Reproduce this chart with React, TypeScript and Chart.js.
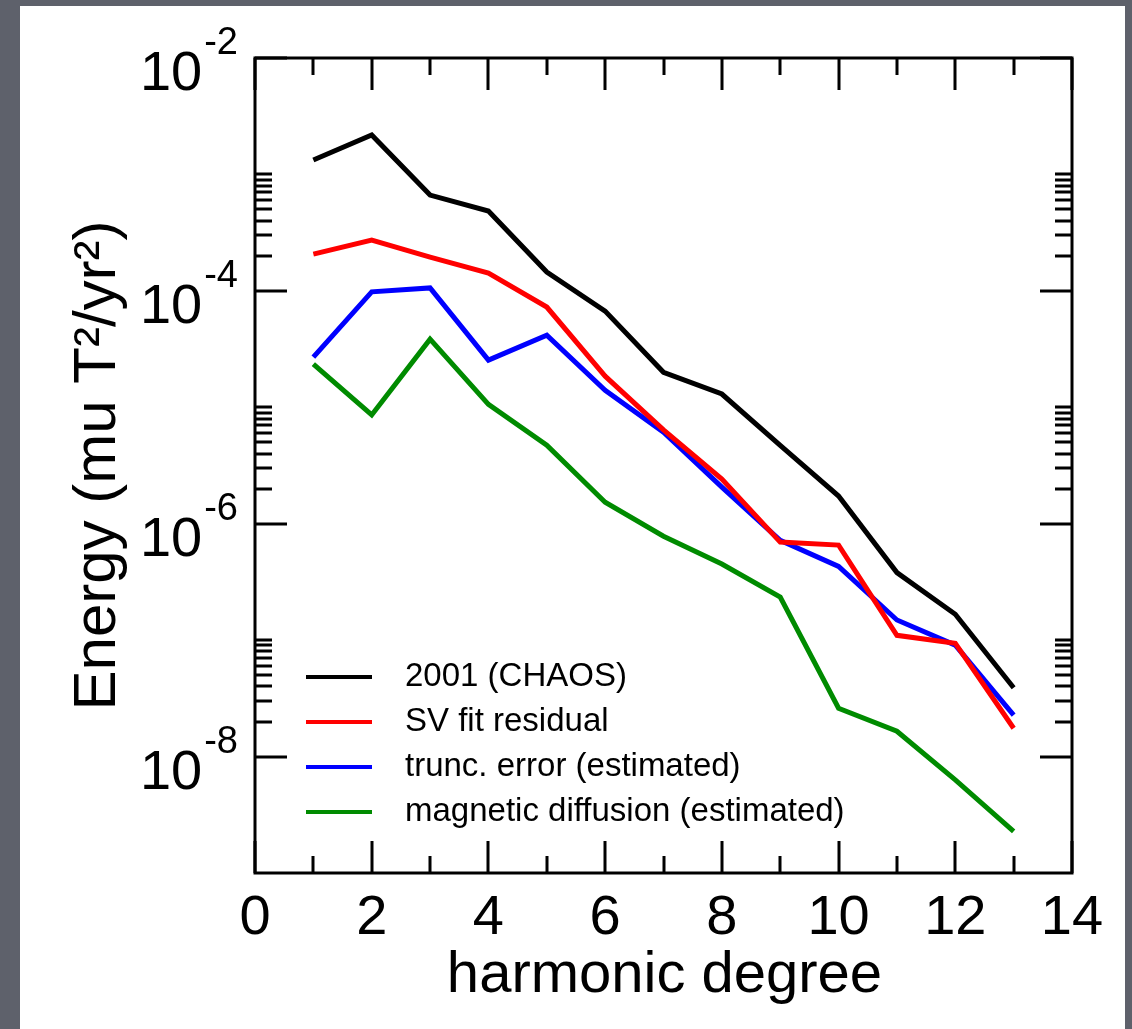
import React, { useEffect, useRef } from "react";
import { Chart, registerables } from "chart.js";

Chart.register(...registerables);

const degrees = [1, 2, 3, 4, 5, 6, 7, 8, 9, 10, 11, 12, 13];
const chaos2001 = [1.33e-3, 2.18e-3, 6.65e-4, 4.85e-4, 1.45e-4, 6.7e-5, 2.0e-5, 1.3e-5, 4.7e-6, 1.73e-6, 3.8e-7, 1.67e-7, 3.9e-8];
const svFitResidual = [2.07e-4, 2.73e-4, 1.95e-4, 1.42e-4, 7.26e-5, 1.85e-5, 6.4e-6, 2.42e-6, 6.95e-7, 6.55e-7, 1.1e-7, 9.4e-8, 1.75e-8];
const truncError = [2.7e-5, 9.8e-5, 1.06e-4, 2.54e-5, 4.17e-5, 1.4e-5, 6.1e-6, 2.06e-6, 7.2e-7, 4.3e-7, 1.49e-7, 9.06e-8, 2.27e-8];
const magDiffusion = [2.35e-5, 8.6e-6, 3.85e-5, 1.06e-5, 4.73e-6, 1.53e-6, 7.8e-7, 4.5e-7, 2.34e-7, 2.6e-8, 1.65e-8, 6.3e-9, 2.28e-9];

const seriesLabels = ["2001 (CHAOS)", "SV fit residual", "trunc. error (estimated)", "magnetic diffusion (estimated)"];
const seriesColors = ["#000000", "#ff0000", "#0000ff", "#008b00"];

const xMajorTicks = [0, 2, 4, 6, 8, 10, 12, 14];
const xMinorTicks = [1, 3, 5, 7, 9, 11, 13];
const yMajorExponents = [-2, -4, -6, -8];
const yMinorDecades = [-4, -6, -8];
const xTitle = "harmonic degree";
const yTitle = "Energy (mu T\u00b2/yr\u00b2)";

const FONT = '"Liberation Sans", Arial, Helvetica, sans-serif';

const decorPlugin = {
  id: "decor",
  afterDraw(chart: any) {
    const ctx = chart.ctx as CanvasRenderingContext2D;
    const { left, right, top, bottom } = chart.chartArea;
    const xs = chart.scales.x;
    const ys = chart.scales.y;
    ctx.save();
    ctx.strokeStyle = "#000";
    ctx.fillStyle = "#000";
    ctx.lineWidth = 3;
    ctx.lineCap = "butt";
    // frame
    ctx.strokeRect(left, top, right - left, bottom - top);
    const MAJ = 32;
    const MIN = 17;
    ctx.beginPath();
    xMajorTicks.forEach((v) => {
      const px = Math.round(xs.getPixelForValue(v));
      ctx.moveTo(px, bottom); ctx.lineTo(px, bottom - MAJ);
      ctx.moveTo(px, top); ctx.lineTo(px, top + MAJ);
    });
    xMinorTicks.forEach((v) => {
      const px = Math.round(xs.getPixelForValue(v));
      ctx.moveTo(px, bottom); ctx.lineTo(px, bottom - MIN);
      ctx.moveTo(px, top); ctx.lineTo(px, top + MIN);
    });
    yMajorExponents.forEach((e) => {
      const py = Math.round(ys.getPixelForValue(Math.pow(10, e)));
      ctx.moveTo(left, py); ctx.lineTo(left + MAJ, py);
      ctx.moveTo(right, py); ctx.lineTo(right - MAJ, py);
    });
    yMinorDecades.forEach((e) => {
      for (let k = 2; k <= 10; k++) {
        const py = Math.round(ys.getPixelForValue(k * Math.pow(10, e)));
        ctx.moveTo(left, py); ctx.lineTo(left + MIN, py);
        ctx.moveTo(right, py); ctx.lineTo(right - MIN, py);
      }
    });
    ctx.stroke();

    // x tick labels
    ctx.font = `56px ${FONT}`;
    ctx.textAlign = "center";
    ctx.textBaseline = "alphabetic";
    xMajorTicks.forEach((v) => {
      ctx.fillText(String(v), xs.getPixelForValue(v), bottom + 61);
    });

    // y tick labels with superscripts
    const labelRight = left - 17;
    yMajorExponents.forEach((e) => {
      const py = ys.getPixelForValue(Math.pow(10, e));
      const sup = String(e);
      ctx.font = `38px ${FONT}`;
      const supW = ctx.measureText(sup).width;
      ctx.textAlign = "left";
      ctx.fillText(sup, labelRight - supW, py - 4);
      ctx.font = `56px ${FONT}`;
      ctx.textAlign = "right";
      ctx.fillText("10", labelRight - supW - 2, py + 32);
    });

    // axis titles
    ctx.font = `58px ${FONT}`;
    ctx.textAlign = "center";
    ctx.fillText(xTitle, (left + right) / 2 + 1, bottom + 119);
    ctx.save();
    ctx.translate(115, (top + bottom) / 2);
    ctx.rotate(-Math.PI / 2);
    ctx.font = `60px ${FONT}`;
    ctx.fillText(yTitle, 0, 0);
    ctx.restore();

    // legend
    ctx.font = `33px ${FONT}`;
    ctx.textAlign = "left";
    ctx.textBaseline = "middle";
    chart.data.datasets.forEach((ds: any, i: number) => {
      const ly = 677 + i * 45;
      ctx.strokeStyle = ds.borderColor;
      ctx.lineWidth = 4;
      ctx.beginPath();
      ctx.moveTo(306, ly);
      ctx.lineTo(372, ly);
      ctx.stroke();
      ctx.fillStyle = "#000";
      ctx.fillText(ds.label, 405, ly);
    });
    ctx.restore();
  },
};

export default function App() {
  const ref = useRef<HTMLCanvasElement>(null);
  useEffect(() => {
    if (!ref.current) return;
    const seriesValues = [chaos2001, svFitResidual, truncError, magDiffusion];
    const chart = new Chart(ref.current, {
      type: "line",
      data: {
        datasets: seriesValues.map((vals, i) => ({
          label: seriesLabels[i],
          data: degrees.map((d, j) => ({ x: d, y: vals[j] })),
          borderColor: seriesColors[i],
          backgroundColor: seriesColors[i],
          borderWidth: 5,
          pointRadius: 0,
          tension: 0,
          fill: false,
        })),
      },
      options: {
        animation: false,
        responsive: false,
        devicePixelRatio: 1,
        layout: { padding: { left: 255, top: 58, right: 60, bottom: 156 } },
        plugins: { legend: { display: false }, tooltip: { enabled: false } },
        scales: {
          x: { type: "linear", min: 0, max: 14, display: false },
          y: { type: "logarithmic", min: 1e-9, max: 1e-2, display: false },
        },
      },
      plugins: [decorPlugin],
    });
    return () => chart.destroy();
  }, []);
  return (
    <div style={{ position: "absolute", left: 0, top: 0, width: 1132, height: 1029, background: "#5e616b", overflow: "hidden" }}>
      <div style={{ position: "absolute", left: 20, top: 6, width: 1105, height: 1023, background: "#ffffff" }} />
      <canvas ref={ref} width={1132} height={1029} style={{ position: "absolute", left: 0, top: 0, width: 1132, height: 1029 }} />
    </div>
  );
}
